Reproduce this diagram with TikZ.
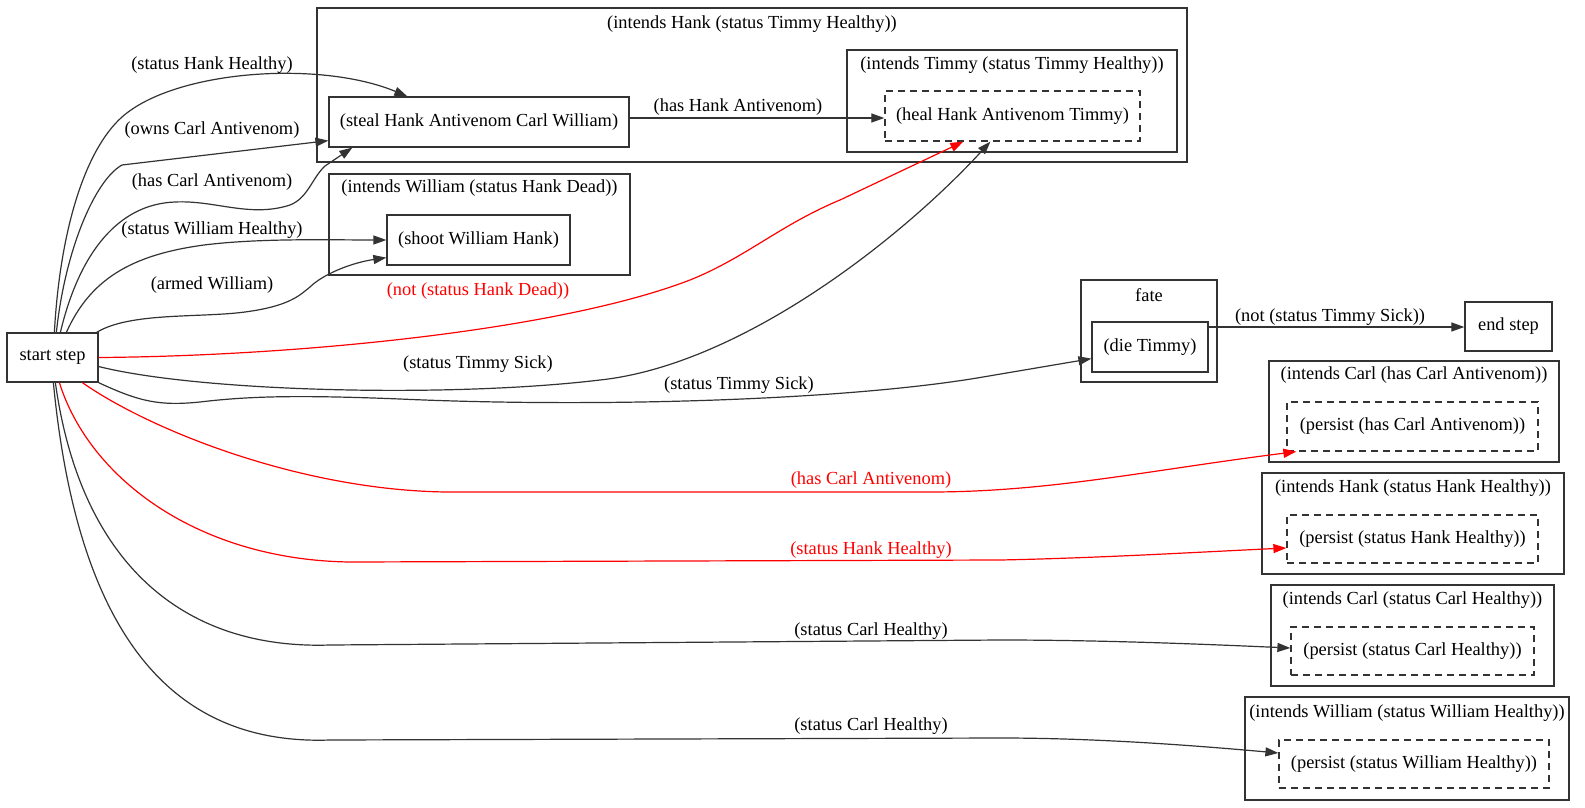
\documentclass[tikz,border=0pt]{standalone}
\usepackage{fontspec}
\setmainfont{Liberation Serif}
\usetikzlibrary{arrows.meta,calc}
\definecolor{ln}{HTML}{333333}
\begin{document}
\begin{tikzpicture}[x=1pt,y=-1pt,
  every node/.style={font=\fontsize{18.4}{20}\selectfont},
  nbox/.style={draw=ln, line width=1.25pt, inner sep=0pt, anchor=center},
  dbox/.style={draw=ln, line width=1.25pt, inner sep=0pt, anchor=center, dash pattern=on 7pt off 5pt},
  cbox/.style={draw=ln, line width=1.25pt, inner sep=0pt, anchor=center},
  lab/.style={inner sep=0pt, anchor=center},
  rlab/.style={inner sep=0pt, anchor=center, text=red},
  edge/.style={draw=ln, line width=1.2pt, -{Triangle[length=13pt,width=9pt]}},
  redge/.style={line width=1.2pt, red, -{Triangle[length=13pt,width=9pt]}}
]
\useasboundingbox (0,0) rectangle (1585,808);

% clusters
\node[cbox, minimum width=870pt, minimum height=154pt] (cH) at (752,85) {};
\node[lab] (cHl) at (752,24) {(intends Hank (status Timmy Healthy))};
\node[cbox, minimum width=330pt, minimum height=102pt] (cT) at (1012,101) {};
\node[lab] (cTl) at (1012,65) {(intends Timmy (status Timmy Healthy))};
\node[cbox, minimum width=301pt, minimum height=101pt] (cW) at (479.5,224.5) {};
\node[lab] (cWl) at (479.5,188) {(intends William (status Hank Dead))};
\node[cbox, minimum width=136pt, minimum height=102pt] (cF) at (1149,331) {};
\node[lab] (cFl) at (1149,295) {fate};
\node[cbox, minimum width=290pt, minimum height=101pt] (cC1) at (1414,411.5) {};
\node[lab] (cC1l) at (1414,375) {(intends Carl (has Carl Antivenom))};
\node[cbox, minimum width=302pt, minimum height=101pt] (cHH) at (1413,523.5) {};
\node[lab] (cHHl) at (1413,488) {(intends Hank (status Hank Healthy))};
\node[cbox, minimum width=283pt, minimum height=101pt] (cCH) at (1412.5,635.5) {};
\node[lab] (cCHl) at (1412.5,600) {(intends Carl (status Carl Healthy))};
\node[cbox, minimum width=324pt, minimum height=103pt] (cWH) at (1407,748.5) {};
\node[lab] (cWHl) at (1407,713) {(intends William (status William Healthy))};

% nodes
\node[nbox, minimum width=91pt, minimum height=49pt] (start) at (52.5,357.5) {start step};
\node[nbox, minimum width=300pt, minimum height=50pt] (steal) at (479,122) {(steal Hank Antivenom Carl William)};
\node[dbox, minimum width=255pt, minimum height=50pt] (heal) at (1012.5,116) {(heal Hank Antivenom Timmy)};
\node[nbox, minimum width=183pt, minimum height=50pt] (shoot) at (478.5,240) {(shoot William Hank)};
\node[nbox, minimum width=116pt, minimum height=50pt] (die) at (1150,347) {(die Timmy)};
\node[nbox, minimum width=87pt, minimum height=49pt] (end) at (1508.5,326.5) {end step};
\node[dbox, minimum width=251pt, minimum height=49pt] (pHC) at (1412.5,426.5) {(persist (has Carl Antivenom))};
\node[dbox, minimum width=251pt, minimum height=48pt] (pHH) at (1412.5,539) {(persist (status Hank Healthy))};
\node[dbox, minimum width=243pt, minimum height=48pt] (pCH) at (1412.5,651) {(persist (status Carl Healthy))};
\node[dbox, minimum width=270pt, minimum height=48pt] (pWH) at (1414,764) {(persist (status William Healthy))};

% edges
\draw[edge] ($(start.north west)+(48,0)$) .. controls (60,230) and (85,150) .. (122,117)
  .. controls (175,70) and (320,60) .. ($(steal.north west)+(79,0)$);
\draw[edge] ($(start.north west)+(50,0)$) .. controls (65,250) and (95,180) .. (122,165)
  -- ($(steal.south west)+(0,-7)$);
\draw[edge] ($(start.north west)+(54,0)$) .. controls (80,250) and (120,204) .. (175,202)
  .. controls (215,200) and (250,218) .. (290,205)
  .. controls (308,198) and (312,178) .. (325,166) -- ($(steal.south west)+(24,0)$);
\draw[edge] ($(start.north west)+(60,0)$) .. controls (90,280) and (130,255) .. (204,245)
  .. controls (260,238) and (330,240) .. (shoot.west);
\draw[edge] ($(start.north east)+(-2,0)$) .. controls (130,312) and (200,318) .. (245,312)
  .. controls (290,306) and (300,295) .. (310,287)
  .. controls (322,275) and (350,263) .. ($(shoot.south west)+(0,-8)$);
\draw[redge] (start.east) .. controls (300,356) and (560,330) .. (690,280)
  .. controls (745,258) and (780,225) .. (840,200) -- ($(heal.south west)+(79,0)$);
\draw[edge] ($(start.east)+(0,9)$) .. controls (200,392) and (450,398) .. (600,380)
  .. controls (740,365) and (900,240) .. ($(heal.south west)+(106,0)$);
\draw[edge] ($(start.south east)+(0,0)$) .. controls (140,402) and (160,406) .. (200,402)
  .. controls (250,396) and (300,395) .. (400,399)
  .. controls (600,408) and (850,400) .. (983,377) -- ($(die.south west)+(0,-14)$);
\draw[redge] ($(start.south west)+(76,0)$) .. controls (150,430) and (300,490) .. (446,492)
  -- (930,492) .. controls (1050,492) and (1150,470) .. ($(pHC.south west)+(10,0)$);
\draw[redge] ($(start.south west)+(53,0)$) .. controls (90,480) and (200,560) .. (350,562)
  -- (1000,560) .. controls (1100,558) and (1200,552) .. ($(pHH.west)+(0,9)$);
\draw[edge] ($(start.south west)+(49,0)$) .. controls (80,560) and (180,650) .. (330,645)
  -- (1000,640) .. controls (1100,640) and (1200,644) .. ($(pCH.west)+(0,-3)$);
\draw[edge] ($(start.south west)+(47,0)$) .. controls (80,660) and (190,745) .. (330,740)
  -- (1000,738) .. controls (1100,738) and (1200,746) .. ($(pWH.west)+(0,-11)$);
\draw[edge] (steal.east |- 0,118) -- (heal.west |- 0,118);
\draw[edge] (die.east |- 0,327) -- (end.west |- 0,327);

% edge labels
\node[lab] (l1) at (212,65) {(status Hank Healthy)};
\node[lab] (l2) at (212,130) {(owns Carl Antivenom)};
\node[lab] (l3) at (212,182) {(has Carl Antivenom)};
\node[lab] (l4) at (212,230) {(status William Healthy)};
\node[lab] (l5) at (212,285) {(armed William)};
\node[rlab] (l6) at (478,291) {(not (status Hank Dead))};
\node[lab] (l7) at (478,364) {(status Timmy Sick)};
\node[lab] (l8) at (739,385) {(status Timmy Sick)};
\node[lab] (l9) at (738,107) {(has Hank Antivenom)};
\node[lab] (l10) at (1330,317) {(not (status Timmy Sick))};
\node[rlab] (l11) at (871,480) {(has Carl Antivenom)};
\node[rlab] (l12) at (871,550) {(status Hank Healthy)};
\node[lab] (l13) at (871,631) {(status Carl Healthy)};
\node[lab] (l14) at (871,726) {(status Carl Healthy)};
\end{tikzpicture}
\end{document}
